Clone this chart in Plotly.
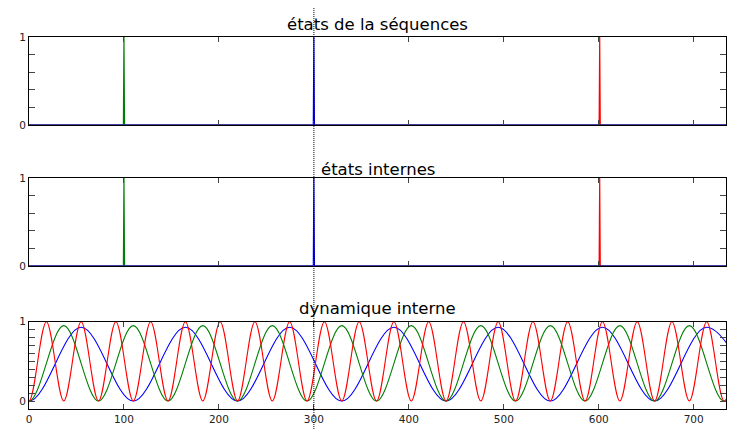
import plotly.graph_objects as go
from plotly.subplots import make_subplots

# axe des temps
x_max = 734
t_marker = 300

# pics des états (position, couleur)
spike_pos = [601, 100, 300]
spike_colors = ['red', 'green', 'blue']

red_x = [-18.3, 0, 18.3, 36.6, 54.9, 73.2, 91.5, 109.8, 128.1, 146.4, 164.7, 183.0,
         201.3, 219.6, 237.9, 256.2, 274.5, 292.8, 311.1, 329.4, 347.7, 366.0,
         384.3, 402.6, 420.9, 439.2, 457.5, 475.8, 494.1, 512.4, 530.7, 549.0,
         567.3, 585.6, 603.9, 622.2, 640.5, 658.8, 677.1, 695.4, 713.7, 732.0, 750.3]
red_y = [1] + [0, 1] * 21

green_x = [-36.6, 0, 36.6, 73.2, 109.8, 146.4, 183.0, 219.6, 256.2, 292.8, 329.4, 366.0,
           402.6, 439.2, 475.8, 512.4, 549.0, 585.6, 622.2, 658.8, 695.4, 732.0, 768.6]
green_y = [0.95] + [0, 0.95] * 11

blue_x = [-54.9, 0, 54.9, 109.8, 164.7, 219.6, 274.5, 329.4, 384.3, 439.2, 494.1, 549.0,
          603.9, 658.8, 713.7, 768.6]
blue_y = [0.93] + [0, 0.93] * 7 + [0]

titles = ['états de la séquences', 'états internes', 'dynamique interne']

fig = make_subplots(rows=3, cols=1)

# panneaux 1 et 2 : pics
for row in (1, 2):
    for pos, col in zip(spike_pos, spike_colors):
        fig.add_trace(go.Scatter(x=[0, pos - 0.6, pos, pos + 0.6, x_max + 20],
                                 y=[0, 0, 1, 0, 0], mode='lines',
                                 line=dict(color=col, width=1.2)), row=row, col=1)

# panneau 3 : dynamique
for xs, ys, col in [(blue_x, blue_y, 'blue'), (green_x, green_y, 'green'), (red_x, red_y, 'red')]:
    fig.add_trace(go.Scatter(x=xs, y=ys, mode='lines',
                             line=dict(color=col, width=1.1, shape='spline', smoothing=1.0)),
                  row=3, col=1)

domains = [[0.7082, 0.9277], [0.3566, 0.5761], [0.0, 0.2177]]
axis_font = dict(family='DejaVu Sans', size=10.5, color='#222222')
for i, dom in enumerate(domains, start=1):
    fig.update_yaxes(domain=dom, row=i, col=1)
    fig.update_xaxes(range=[0, x_max], dtick=100, tick0=0, ticks='inside', ticklen=5,
                     mirror='ticks', showline=True, linecolor='black', linewidth=1,
                     showgrid=False, zeroline=False, showticklabels=(i == 3),
                     tickfont=axis_font, automargin=False, row=i, col=1)
    fig.update_yaxes(range=[0, 1] if i < 3 else [-0.1, 1], tickvals=[0, 1],
                     ticks='inside', ticklen=6, mirror='ticks', showline=True,
                     linecolor='black', linewidth=1, showgrid=False, zeroline=False,
                     tickfont=axis_font, automargin=False,
                     minor=dict(dtick=0.2 if i < 3 else 0.1, tick0=0, ticks='inside',
                                ticklen=6, showgrid=False),
                     row=i, col=1)

# titres des panneaux
for title, y in zip(titles, [0.960, 0.5985, 0.2494]):
    fig.add_annotation(text=title, x=0.5005, y=y, xref='paper', yref='paper',
                       xanchor='center', yanchor='middle', showarrow=False,
                       font=dict(family='DejaVu Sans', size=16.5, color='black'))

# ligne verticale pointillée au temps courant
fig.add_shape(type='line', xref='x3', yref='paper', x0=t_marker, x1=t_marker,
              y0=-0.06, y1=1.0, line=dict(color='black', width=1, dash='1px,1px'))

# la page ajoute 8 px de marge : figure réduite pour éviter tout débordement
fig.update_layout(width=719, height=421, showlegend=False,
                  margin=dict(l=21, r=1, t=0, b=20, autoexpand=False),
                  paper_bgcolor='white', plot_bgcolor='white')

fig.write_html("out.html")
